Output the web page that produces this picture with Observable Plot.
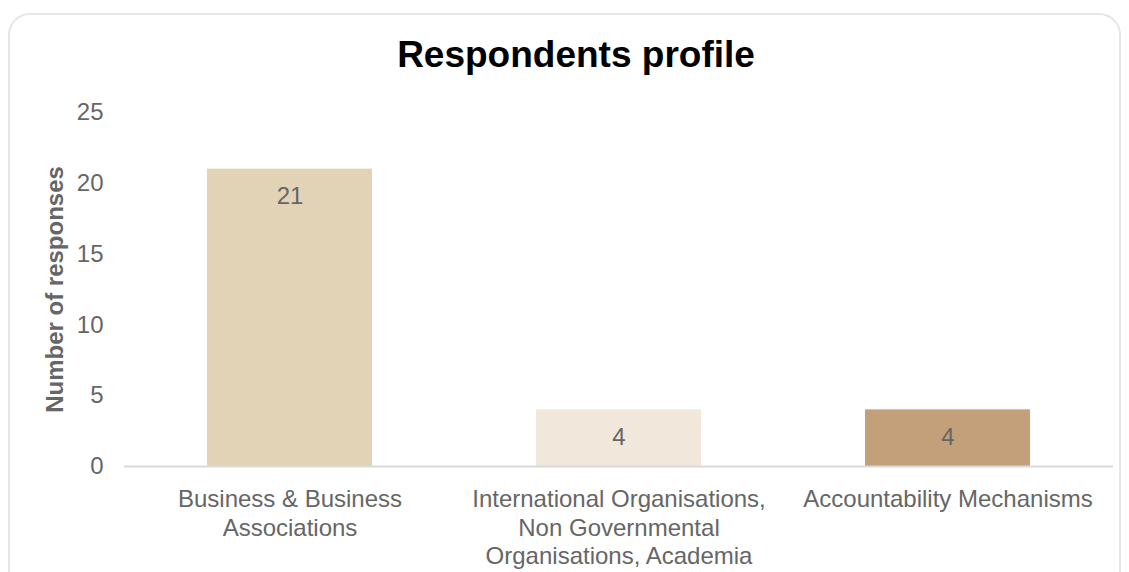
<!DOCTYPE html>
<html>
<head>
<meta charset="utf-8">
<script src="https://cdn.jsdelivr.net/npm/d3@7"></script>
<script src="https://cdn.jsdelivr.net/npm/@observablehq/plot@0.6"></script>
<style>
  html, body { margin: 0; padding: 0; background: #fff; }
  body { width: 1129px; height: 572px; overflow: hidden; position: relative; font-family: "Liberation Sans", Arial, sans-serif; }
  #frame { position: absolute; left: 8px; top: 13px; width: 1113px; height: 600px; border: 2px solid #e6e6e6; border-radius: 22px; box-sizing: border-box; pointer-events: none; }
  #title { position: absolute; left: 0; top: 0; width: 1129px; height: 80px; box-sizing: border-box; padding-left: 23px; padding-top: 35px; text-align: center; font-size: 37px; font-weight: bold; color: #000; line-height: 40px; white-space: nowrap; }
  #chart { position: absolute; left: 0; top: 80px; }
  g[aria-label="y-axis label"] text { font-weight: bold; }
</style>
</head>
<body>
<div id="frame"></div>
<div id="title">Respondents profile</div>
<div id="chart"></div>
<script>
const categories = [
  "Business & Business Associations",
  "International Organisations, Non Governmental Organisations, Academia",
  "Accountability Mechanisms"
];
const tickLabels = [
  "Business & Business\nAssociations",
  "International Organisations,\nNon Governmental\nOrganisations, Academia",
  "Accountability Mechanisms"
];
const responses = [21, 4, 4];
const barColors = ["#e3d3b6", "#f1e8db", "#c4a07a"];
const yTicks = [0, 5, 10, 15, 20, 25];

const data = categories.map((c, i) => ({category: c, value: responses[i], color: barColors[i]}));
const labelOf = new Map(categories.map((c, i) => [c, tickLabels[i]]));

const chart = Plot.plot({
  width: 1129,
  height: 492,
  marginTop: 32,
  marginBottom: 106,
  marginLeft: 124,
  marginRight: 16,
  style: {fontFamily: "'Liberation Sans', Arial, sans-serif", background: "transparent"},
  x: {domain: categories, paddingInner: 0.5, paddingOuter: 0.25, align: 0.5},
  y: {domain: [0, 25], ticks: yTicks},
  marks: [
    Plot.barY(data, {x: "category", y: "value", fill: "color"}),
    Plot.ruleY([0], {stroke: "#d9d9d9", strokeWidth: 2}),
    Plot.text(data, {x: "category", y: "value", text: d => String(d.value), dy: 27, fill: "#666666", fontSize: 24}),
    Plot.axisY({ticks: yTicks, tickSize: 0, tickPadding: 21, fontSize: 24, color: "#666666",
      label: "Number of responses", labelAnchor: "center", labelArrow: "none", labelOffset: 79}),
    Plot.axisX({tickSize: 0, tickPadding: 21, fontSize: 24, color: "#666666", lineHeight: 1.17,
      tickFormat: d => labelOf.get(d), label: null})
  ]
});
document.getElementById("chart").appendChild(chart);
</script>
</body>
</html>
